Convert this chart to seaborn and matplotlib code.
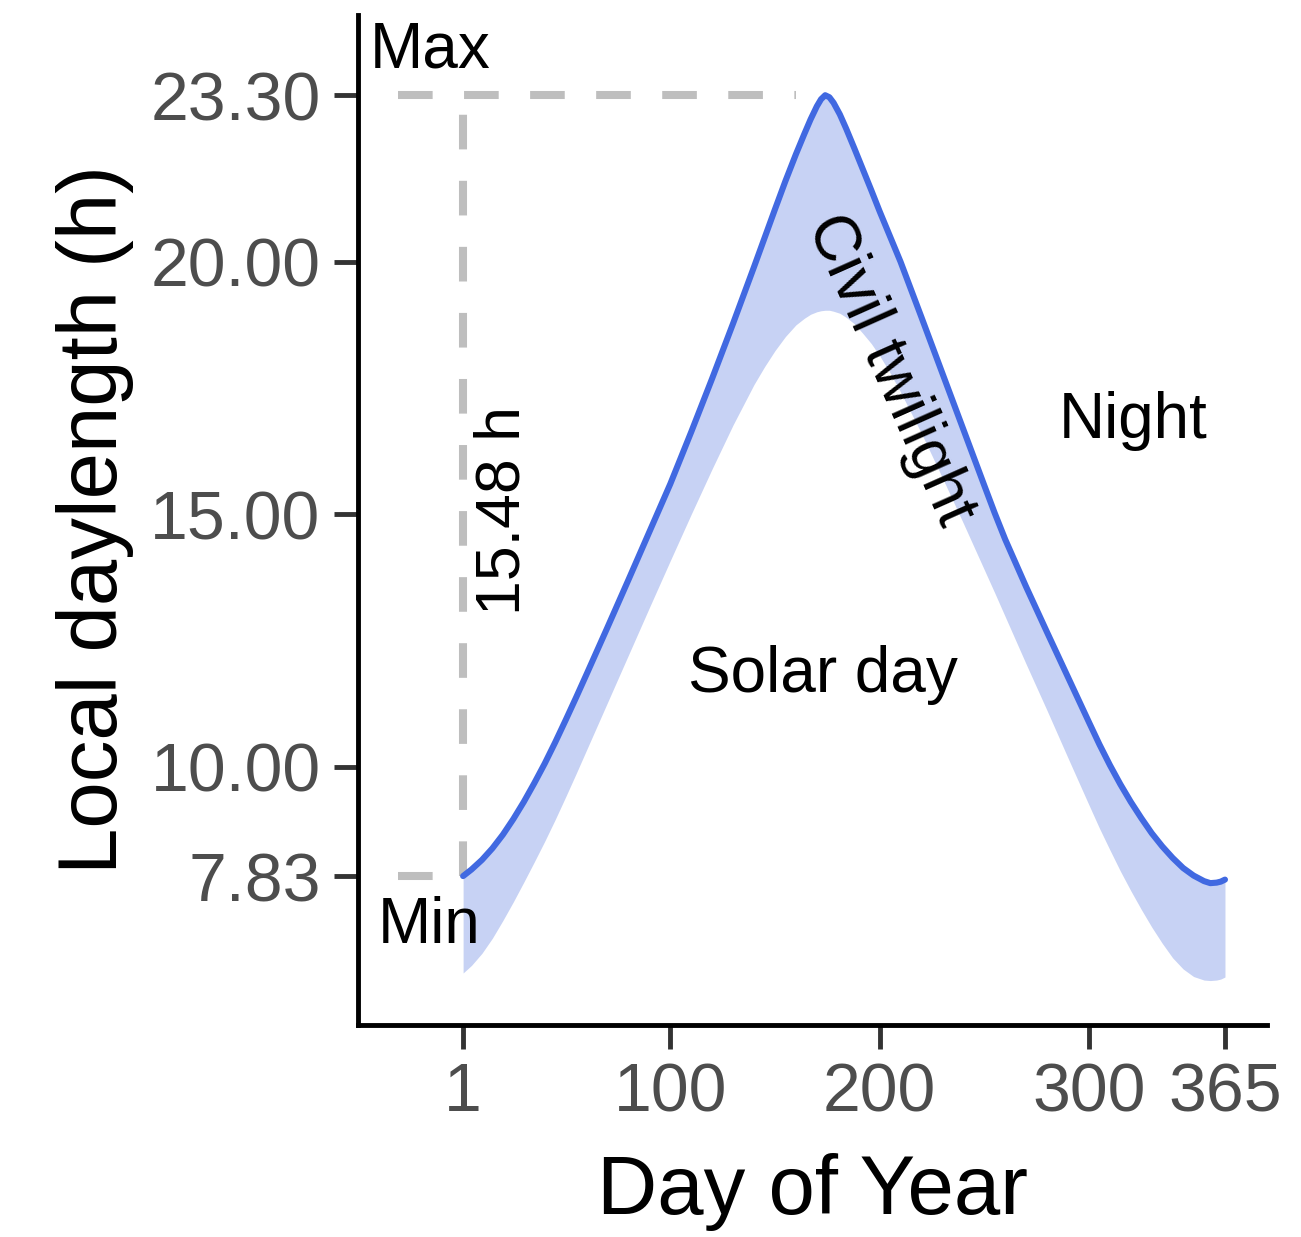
import numpy as np
import pandas as pd
import matplotlib
matplotlib.use("Agg")
import matplotlib.pyplot as plt
import seaborn as sns

days = [1, 5, 10, 15, 20, 25, 30, 35, 40, 45, 50, 55, 60, 70, 80, 90, 100,
        110, 120, 130, 140, 145, 150, 155, 160, 164, 167, 170, 172, 174, 176,
        178, 181, 184, 188, 192, 196, 200, 205, 210, 220, 230, 240, 250, 255,
        260, 270, 280, 290, 300, 305, 310, 315, 320, 325, 330, 335, 340, 345,
        350, 355, 358, 361, 363, 365]

# daylength incl. civil twilight (h) - upper blue line
civil = [7.83, 7.96, 8.15, 8.38, 8.65, 8.96, 9.30, 9.67, 10.06, 10.48, 10.92,
         11.37, 11.83, 12.76, 13.70, 14.65, 15.60, 16.63, 17.69, 18.78, 19.90,
         20.47, 21.04, 21.60, 22.13, 22.53, 22.82, 23.08, 23.22, 23.30, 23.26,
         23.15, 22.92, 22.64, 22.24, 21.83, 21.42, 21.00, 20.50, 20.00, 18.90,
         17.79, 16.68, 15.57, 15.02, 14.50, 13.56, 12.66, 11.77, 10.88, 10.44,
         10.03, 9.65, 9.30, 8.98, 8.68, 8.42, 8.19, 7.99, 7.84, 7.73, 7.69,
         7.70, 7.72, 7.76]

# solar daylength (h) - lower edge of shaded band
solar = [5.91, 6.06, 6.30, 6.60, 6.95, 7.32, 7.71, 8.11, 8.52, 8.95, 9.40,
         9.86, 10.33, 11.27, 12.21, 13.15, 14.08, 15.00, 15.90, 16.77, 17.57,
         17.92, 18.24, 18.52, 18.75, 18.88, 18.96, 19.01, 19.03, 19.04, 19.04,
         19.02, 18.98, 18.90, 18.77, 18.58, 18.38, 18.14, 17.80, 17.42, 16.60,
         15.72, 14.82, 13.90, 13.44, 12.97, 12.03, 11.11, 10.17, 9.24, 8.78,
         8.35, 7.93, 7.54, 7.17, 6.82, 6.50, 6.21, 5.99, 5.84, 5.77, 5.76,
         5.77, 5.79, 5.83]

x_ticks = [1, 100, 200, 300, 365]
y_ticks = [7.83, 10.00, 15.00, 20.00, 23.30]
y_labels = ["7.83", "10.00", "15.00", "20.00", "23.30"]

max_h = 23.30
min_h = 7.83
peak_ref_day = 160

df = pd.DataFrame({"day": days, "civil": civil, "solar": solar})

sns.set_theme(style="ticks")
plt.rcParams["font.family"] = ["Liberation Sans", "DejaVu Sans"]

fig = plt.figure(figsize=(13.01, 12.37), dpi=100)
ax = fig.add_axes([0.2752, 0.1714, 0.6987, 0.8165])

ax.fill_between(df["day"], df["solar"], df["civil"], color="#c7d2f4", lw=0, zorder=1)
sns.lineplot(data=df, x="day", y="civil", ax=ax, color="#4169e1", lw=4.4, zorder=3)

# reference guides
grey = "#bebebe"
ax.plot([-30, peak_ref_day], [max_h, max_h], color=grey, lw=5.8, dashes=(4.3, 3.9), zorder=2)
ax.plot([-30, 1], [min_h, min_h], color=grey, lw=5.8, dashes=(4.3, 3.9), zorder=2)
ax.plot([1, 1], [min_h, max_h], color=grey, lw=5.8, dashes=(4.3, 3.9), zorder=2)

ax.text(-43.4, 23.84, "Max", fontsize=46, ha="left", va="baseline", color="black")
ax.text(-39.6, 6.50, "Min", fontsize=46, ha="left", va="baseline", color="black")
ax.text(20.1, 15.08, "15.48 h", fontsize=45, rotation=90, ha="center", va="center",
        rotation_mode="anchor", color="black")
ax.text(205, 17.85, "Civil twilight", fontsize=46, rotation=-66, ha="center", va="center",
        rotation_mode="anchor", color="black")
ax.text(173, 11.47, "Solar day", fontsize=46, ha="center", va="baseline", color="black")
ax.text(321, 16.51, "Night", fontsize=46, ha="center", va="baseline", color="black")

ax.set_xlim(-49.2, 385.1)
ax.set_ylim(4.88, 24.89)
ax.set_xticks(x_ticks)
ax.set_yticks(y_ticks)
ax.set_yticklabels(y_labels)

sns.despine(ax=ax)
for s in ["left", "bottom"]:
    ax.spines[s].set_linewidth(3.5)
    ax.spines[s].set_color("black")
ax.tick_params(axis="both", length=17, width=3.5, color="#333333",
               labelsize=49, labelcolor="#4d4d4d")
ax.tick_params(axis="y", pad=10)
ax.tick_params(axis="x", pad=9)

ax.set_xlabel("Day of Year", fontsize=60, color="black", labelpad=20)
ax.set_ylabel("Local daylength (h)", fontsize=60, color="black", labelpad=12)

fig.savefig("out.png", dpi=100)
